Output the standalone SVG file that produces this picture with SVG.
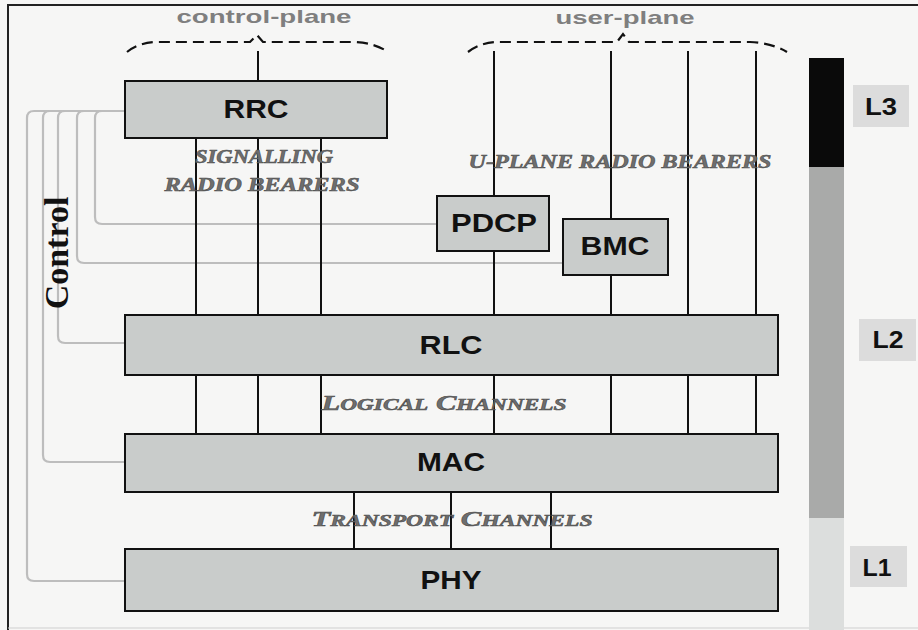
<svg xmlns="http://www.w3.org/2000/svg" width="918" height="630" viewBox="0 0 918 630">
<style>
.box{fill:#c9cccb;stroke:#111;stroke-width:2}
.bl{font-family:"Liberation Sans",Arial,sans-serif;font-weight:bold;fill:#111;text-anchor:middle}
.ln{stroke:#111;stroke-width:2;fill:none}
.ctl{stroke:#bdbdbd;stroke-width:2.2;fill:none}
.it{font-family:"Liberation Serif","Times New Roman",serif;font-weight:bold;font-style:italic;fill:#6e6e6e;stroke:#4a4a4a;stroke-width:0.5;text-anchor:middle}
.plane{font-family:"Liberation Sans",Arial,sans-serif;font-weight:bold;fill:#7f7f7f;text-anchor:middle;font-size:19px}
.brace{stroke:#111;stroke-width:2.2;fill:none;stroke-dasharray:11 6}
.lvl{fill:#dcdcdc}
</style>
<rect x="0" y="0" width="918" height="630" fill="#f6f6f5"/>
<path d="M8,630 L8,5 L918,5" fill="none" stroke="#222" stroke-width="2"/>
<line x1="8" y1="628" x2="918" y2="628" stroke="#cfcfcf" stroke-width="1"/>

<!-- planes -->
<text class="plane" x="264" y="23" textLength="175" lengthAdjust="spacingAndGlyphs">control-plane</text>
<text class="plane" x="625" y="24" textLength="139" lengthAdjust="spacingAndGlyphs">user-plane</text>
<path class="brace" d="M127,52 Q138,43 155,42 L250,42 L257,35 L263,42 L355,42 Q375,43 388,52"/>
<path class="brace" d="M468,52 Q480,43 495,42 L617,42 L623,34 L629,42 L750,42 Q772,43 787,52"/>

<!-- level bar -->
<g id="levels">
<rect x="809" y="58" width="35" height="109" fill="#0a0a0a"/>
<rect x="809" y="167" width="35" height="351" fill="#a9aaa9"/>
<rect x="809" y="518" width="35" height="112" fill="#dcdedd"/>
<g id="L3"><rect class="lvl" x="853" y="85" width="56" height="42"/><text class="bl" x="881" y="115" font-size="24" textLength="32" lengthAdjust="spacingAndGlyphs">L3</text></g>
<g id="L2"><rect class="lvl" x="859" y="319" width="57" height="42"/><text class="bl" x="888" y="348" font-size="24" textLength="31" lengthAdjust="spacingAndGlyphs">L2</text></g>
<g id="L1"><rect class="lvl" x="850" y="546" width="57" height="41"/><text class="bl" x="877" y="576" font-size="24" textLength="29" lengthAdjust="spacingAndGlyphs">L1</text></g>
</g>

<!-- connectors -->
<g id="connectors">
<g class="ctl">
<path d="M125,111 L34,111 Q27,111 27,118 L27,574 Q27,581 34,581 L125,581"/>
<path d="M50,111 Q43,111 43,118 L43,455 Q43,462 50,462 L125,462"/>
<path d="M65,111 Q58,111 58,118 L58,336 Q58,343 65,343 L125,343"/>
<path d="M84,111 Q77,111 77,118 L77,256 Q77,263 84,263 L563,263"/>
<path d="M102,111 Q95,111 95,118 L95,217 Q95,224 102,224 L437,224"/>
</g>
<g class="ln">
<line x1="258" y1="51" x2="258" y2="81"/>
<line x1="196" y1="138" x2="196" y2="315"/>
<line x1="258" y1="138" x2="258" y2="315"/>
<line x1="321" y1="138" x2="321" y2="315"/>
<line x1="494" y1="51" x2="494" y2="315"/>
<line x1="611" y1="51" x2="611" y2="315"/>
<line x1="688" y1="51" x2="688" y2="315"/>
<line x1="756" y1="51" x2="756" y2="315"/>
<line x1="196" y1="375" x2="196" y2="434"/>
<line x1="258" y1="375" x2="258" y2="434"/>
<line x1="321" y1="375" x2="321" y2="434"/>
<line x1="494" y1="375" x2="494" y2="434"/>
<line x1="611" y1="375" x2="611" y2="434"/>
<line x1="688" y1="375" x2="688" y2="434"/>
<line x1="756" y1="375" x2="756" y2="434"/>
<line x1="354" y1="492" x2="354" y2="549"/>
<line x1="451" y1="492" x2="451" y2="549"/>
<line x1="551" y1="492" x2="551" y2="549"/>
</g>
</g>

<!-- nodes -->
<g id="RRC"><rect class="box" x="125" y="81" width="262" height="57"/><text class="bl" x="256" y="118" font-size="25" textLength="65" lengthAdjust="spacingAndGlyphs">RRC</text></g>
<g id="PDCP"><rect class="box" x="437" y="196" width="112" height="55"/><text class="bl" x="494" y="232" font-size="25" textLength="86" lengthAdjust="spacingAndGlyphs">PDCP</text></g>
<g id="BMC"><rect class="box" x="563" y="219" width="105" height="56"/><text class="bl" x="615" y="255" font-size="25" textLength="69" lengthAdjust="spacingAndGlyphs">BMC</text></g>
<g id="RLC"><rect class="box" x="125" y="315" width="653" height="60"/><text class="bl" x="451" y="354" font-size="25" textLength="63" lengthAdjust="spacingAndGlyphs">RLC</text></g>
<g id="MAC"><rect class="box" x="125" y="434" width="653" height="58"/><text class="bl" x="451" y="471" font-size="25" textLength="68" lengthAdjust="spacingAndGlyphs">MAC</text></g>
<g id="PHY"><rect class="box" x="125" y="549" width="653" height="62"/><text class="bl" x="451" y="589" font-size="25" textLength="61" lengthAdjust="spacingAndGlyphs">PHY</text></g>

<!-- labels -->
<text class="it" x="264" y="163" font-size="19" textLength="138" lengthAdjust="spacingAndGlyphs">SIGNALLING</text>
<text class="it" x="262" y="191" font-size="19" textLength="195" lengthAdjust="spacingAndGlyphs">RADIO BEARERS</text>
<text class="it" x="620" y="168" font-size="19" textLength="303" lengthAdjust="spacingAndGlyphs">U-PLANE RADIO BEARERS</text>
<text class="it" x="444" y="410" font-size="21" textLength="245" lengthAdjust="spacingAndGlyphs">L<tspan font-size="16">OGICAL</tspan> C<tspan font-size="16">HANNELS</tspan></text>
<text class="it" x="452" y="526" font-size="21" textLength="281" lengthAdjust="spacingAndGlyphs">T<tspan font-size="16">RANSPORT</tspan> C<tspan font-size="16">HANNELS</tspan></text>
<text font-family="'Liberation Serif','Times New Roman',serif" font-weight="bold" font-size="34" fill="#111" text-anchor="middle" transform="translate(68,253) rotate(-90)">Control</text>
</svg>
